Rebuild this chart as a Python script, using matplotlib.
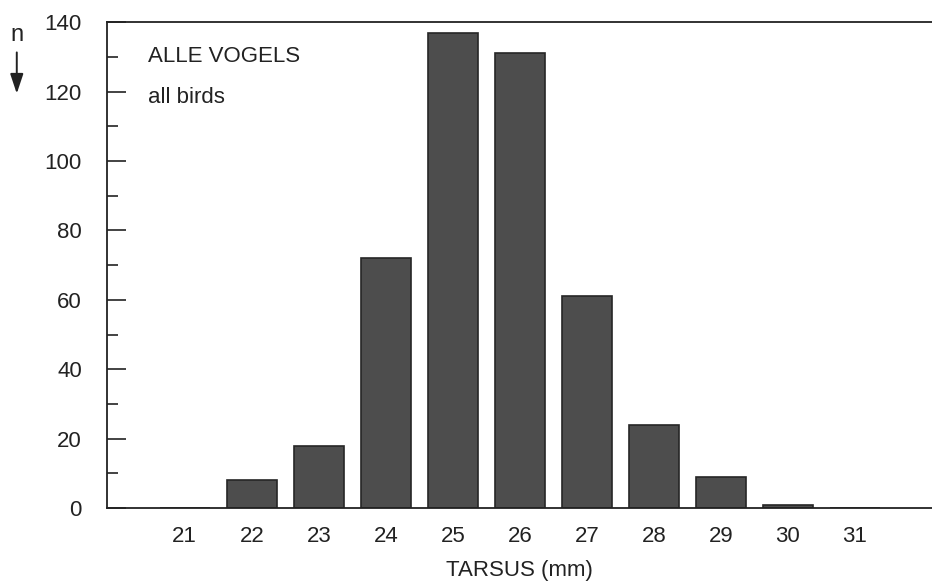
import matplotlib
matplotlib.use("Agg")
import matplotlib.pyplot as plt
from matplotlib.ticker import MultipleLocator

# Tarsus length classes (mm) and counts
tarsus = [21, 22, 23, 24, 25, 26, 27, 28, 29, 30, 31]
counts = [0, 8, 18, 72, 137, 131, 61, 24, 9, 1, 0]

plt.rcParams["font.family"] = ["Liberation Sans", "DejaVu Sans"]

fig = plt.figure(figsize=(9.32, 5.84), dpi=100)
ax = fig.add_axes([0.1148, 0.130, 0.8852, 0.832])

ax.bar(tarsus, counts, width=0.75, color="#4d4d4d", edgecolor="#262626", linewidth=1.2)

ax.set_xlim(19.84, 32.15)
ax.set_ylim(0, 140)
ax.set_xticks(tarsus)
ax.yaxis.set_major_locator(MultipleLocator(20))
ax.yaxis.set_minor_locator(MultipleLocator(10))

ax.spines["right"].set_visible(False)
for s in ("left", "top", "bottom"):
    ax.spines[s].set_linewidth(1.3)
    ax.spines[s].set_color("#222222")

ax.tick_params(axis="y", which="major", direction="in", length=14, width=1.2,
               labelsize=16, pad=18, colors="#222222")
ax.tick_params(axis="y", which="minor", direction="in", length=8, width=1.2,
               colors="#222222")
ax.tick_params(axis="x", length=0, labelsize=16, pad=13, colors="#222222")

ax.set_xlabel("TARSUS (mm)", fontsize=16, color="#222222", labelpad=9)

ax.text(0.05, 0.93, "ALLE VOGELS", transform=ax.transAxes, fontsize=16,
        color="#222222", va="center")
ax.text(0.05, 0.845, "all birds", transform=ax.transAxes, fontsize=16,
        color="#222222", va="center")

# "n" with downward arrow on the left
fig.text(0.018, 0.94, "n", fontsize=17, color="#222222", ha="center", va="center")
fig.add_artist(matplotlib.patches.FancyArrowPatch(
    (0.018, 0.915), (0.018, 0.835), transform=fig.transFigure,
    arrowstyle="-|>,head_length=12,head_width=4", color="#222222", linewidth=1.4))

fig.savefig("out.png", dpi=100)
